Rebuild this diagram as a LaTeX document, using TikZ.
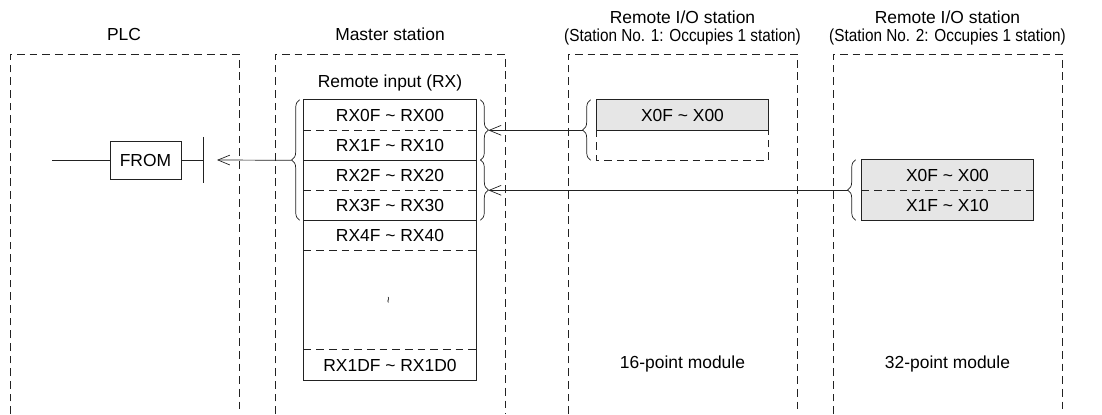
\documentclass[tikz,border=0pt]{standalone}
\usepackage{fontspec}
\setmainfont{Liberation Sans}
\usetikzlibrary{arrows.meta,positioning,decorations.pathreplacing}
\definecolor{cellgray}{HTML}{E6E6E6}
\definecolor{darkline}{HTML}{222222}

\newcommand{\rangetext}[2]{#1 \textasciitilde{} #2}
\newcommand{\narrowline}[1]{\scalebox{0.88}[1]{#1}}

\tikzset{
  every node/.style={font=\fontsize{12.4}{13}\selectfont, inner sep=0pt},
  station/.style={draw=darkline, dash pattern=on 5.5pt off 3.5pt, line width=0.5pt},
  cell/.style={minimum width=4.3cm, minimum height=0.75cm},
  iocell/.style={minimum width=4.275cm, minimum height=0.75cm},
  frameline/.style={draw=darkline, line width=0.8pt},
  sepline/.style={draw=darkline, line width=0.8pt, dash pattern=on 5.5pt off 3.5pt},
  curly/.style={draw=darkline, line width=0.5pt, decorate,
    decoration={brace, amplitude=5.7pt, aspect=0.5}},
  link/.style={draw=darkline, line width=0.5pt, -{Straight Barb[length=8.5pt,width=7pt]}}
}

\begin{document}
\begin{tikzpicture}[x=0.025cm,y=-0.025cm]
\useasboundingbox (0,0) rectangle (1102,414);

% station frames
\draw[station] (10,414) -- (10,54) -- (239,54) -- (239,414);
\draw[station] (275,414) -- (275,54) -- (505,54) -- (505,414);
\draw[station] (568,414) -- (568,54) -- (797,54) -- (797,414);
\draw[station] (833,414) -- (833,54) -- (1062,54) -- (1062,414);

% titles
\node[anchor=base] (plc) at (124,40) {PLC};
\node[anchor=base] (master) at (390,40) {Master station};
\node[anchor=base] (rio1) at (682.5,23) {Remote I/O station};
\node[anchor=base] (rio1sub) at (682.5,41) {\narrowline{(Station No. 1: Occupies 1 station)}};
\node[anchor=base] (rio2) at (947.5,23) {Remote I/O station};
\node[anchor=base] (rio2sub) at (947.5,41) {\narrowline{(Station No. 2: Occupies 1 station)}};

% PLC side
\node[draw=darkline, line width=0.5pt, minimum width=1.775cm, minimum height=0.95cm] (from) at (145.5,160) {FROM};
\coordinate (rail) at (52,160);
\coordinate (contact) at (203,160);
\coordinate (plcin) at (217,160);
\draw[darkline, line width=0.5pt] (rail) -- (from);
\draw[darkline, line width=0.5pt] (from) -- (contact);
\draw[darkline, line width=0.6pt] ([yshift=0.575cm]contact) -- ([yshift=-0.575cm]contact);

% master station table
\node[anchor=base] (rxtitle) at (390,87) {Remote input (RX)};
\node[cell] (rx0) at (390,115) {\rangetext{RX0F}{RX00}};
\node[cell] (rx1) at (390,145) {\rangetext{RX1F}{RX10}};
\node[cell] (rx2) at (390,175) {\rangetext{RX2F}{RX20}};
\node[cell] (rx3) at (390,205) {\rangetext{RX3F}{RX30}};
\node[cell] (rx4) at (390,235) {\rangetext{RX4F}{RX40}};
\node[rotate=90, font=\footnotesize] (rxgap) at (390,300) {\textasciitilde};
\node[cell] (rxd) at (390,365) {\rangetext{RX1DF}{RX1D0}};
\draw[frameline] (rx0.north west) rectangle (rxd.south east);
\draw[frameline] (rx1.south west) -- (rx1.south east);
\draw[frameline] (rx3.south west) -- (rx3.south east);
\draw[sepline] (rx0.south west) -- (rx0.south east);
\draw[sepline] (rx2.south west) -- (rx2.south east);
\draw[sepline] (rx4.south west) -- (rx4.south east);
\draw[sepline] (rxd.north west) -- (rxd.north east);

% remote station 1
\node[iocell, fill=cellgray] (io1a) at (682.5,115) {\rangetext{X0F}{X00}};
\node[iocell] (io1b) at (682.5,145) {};
\draw[frameline] (io1a.north west) rectangle (io1a.south east);
\draw[sepline] (io1b.north west) -- (io1b.south west) -- (io1b.south east) -- (io1b.north east);

% remote station 2
\node[iocell, fill=cellgray] (io2a) at (947.5,175) {\rangetext{X0F}{X00}};
\node[iocell, fill=cellgray] (io2b) at (947.5,205) {\rangetext{X1F}{X10}};
\draw[frameline] (io2a.north west) rectangle (io2b.south east);
\draw[sepline] (io2a.south west) -- (io2a.south east);

\node[anchor=base] (m16) at (682.5,368) {16-point module};
\node[anchor=base] (m32) at (947.5,368) {32-point module};

% braces
\draw[curly] ([xshift=-0.1cm]rx3.south west) -- ([xshift=-0.1cm]rx0.north west);
\draw[curly] ([xshift=0.1cm]rx0.north east) -- ([xshift=0.1cm]rx1.south east);
\draw[curly] ([xshift=0.1cm]rx2.north east) -- ([xshift=0.1cm]rx3.south east);
\draw[curly] ([xshift=-0.15cm]io1b.south west) -- ([xshift=-0.15cm]io1a.north west);
\draw[curly] ([xshift=-0.15cm]io2b.south west) -- ([xshift=-0.15cm]io2a.north west);
\coordinate (mltip) at ([xshift=-0.3cm]rx1.south west);
\coordinate (mr1tip) at ([xshift=0.3cm]rx0.south east);
\coordinate (mr2tip) at ([xshift=0.3cm]rx2.south east);
\coordinate (io1tip) at ([xshift=-0.35cm]io1a.south west);
\coordinate (io2tip) at ([xshift=-0.35cm]io2a.south west);

% data flow
\draw[link] (io1tip) -- (mr1tip);
\draw[link] (io2tip) -- (mr2tip);
\draw[link] (mltip) -- (plcin);
\end{tikzpicture}
\end{document}
